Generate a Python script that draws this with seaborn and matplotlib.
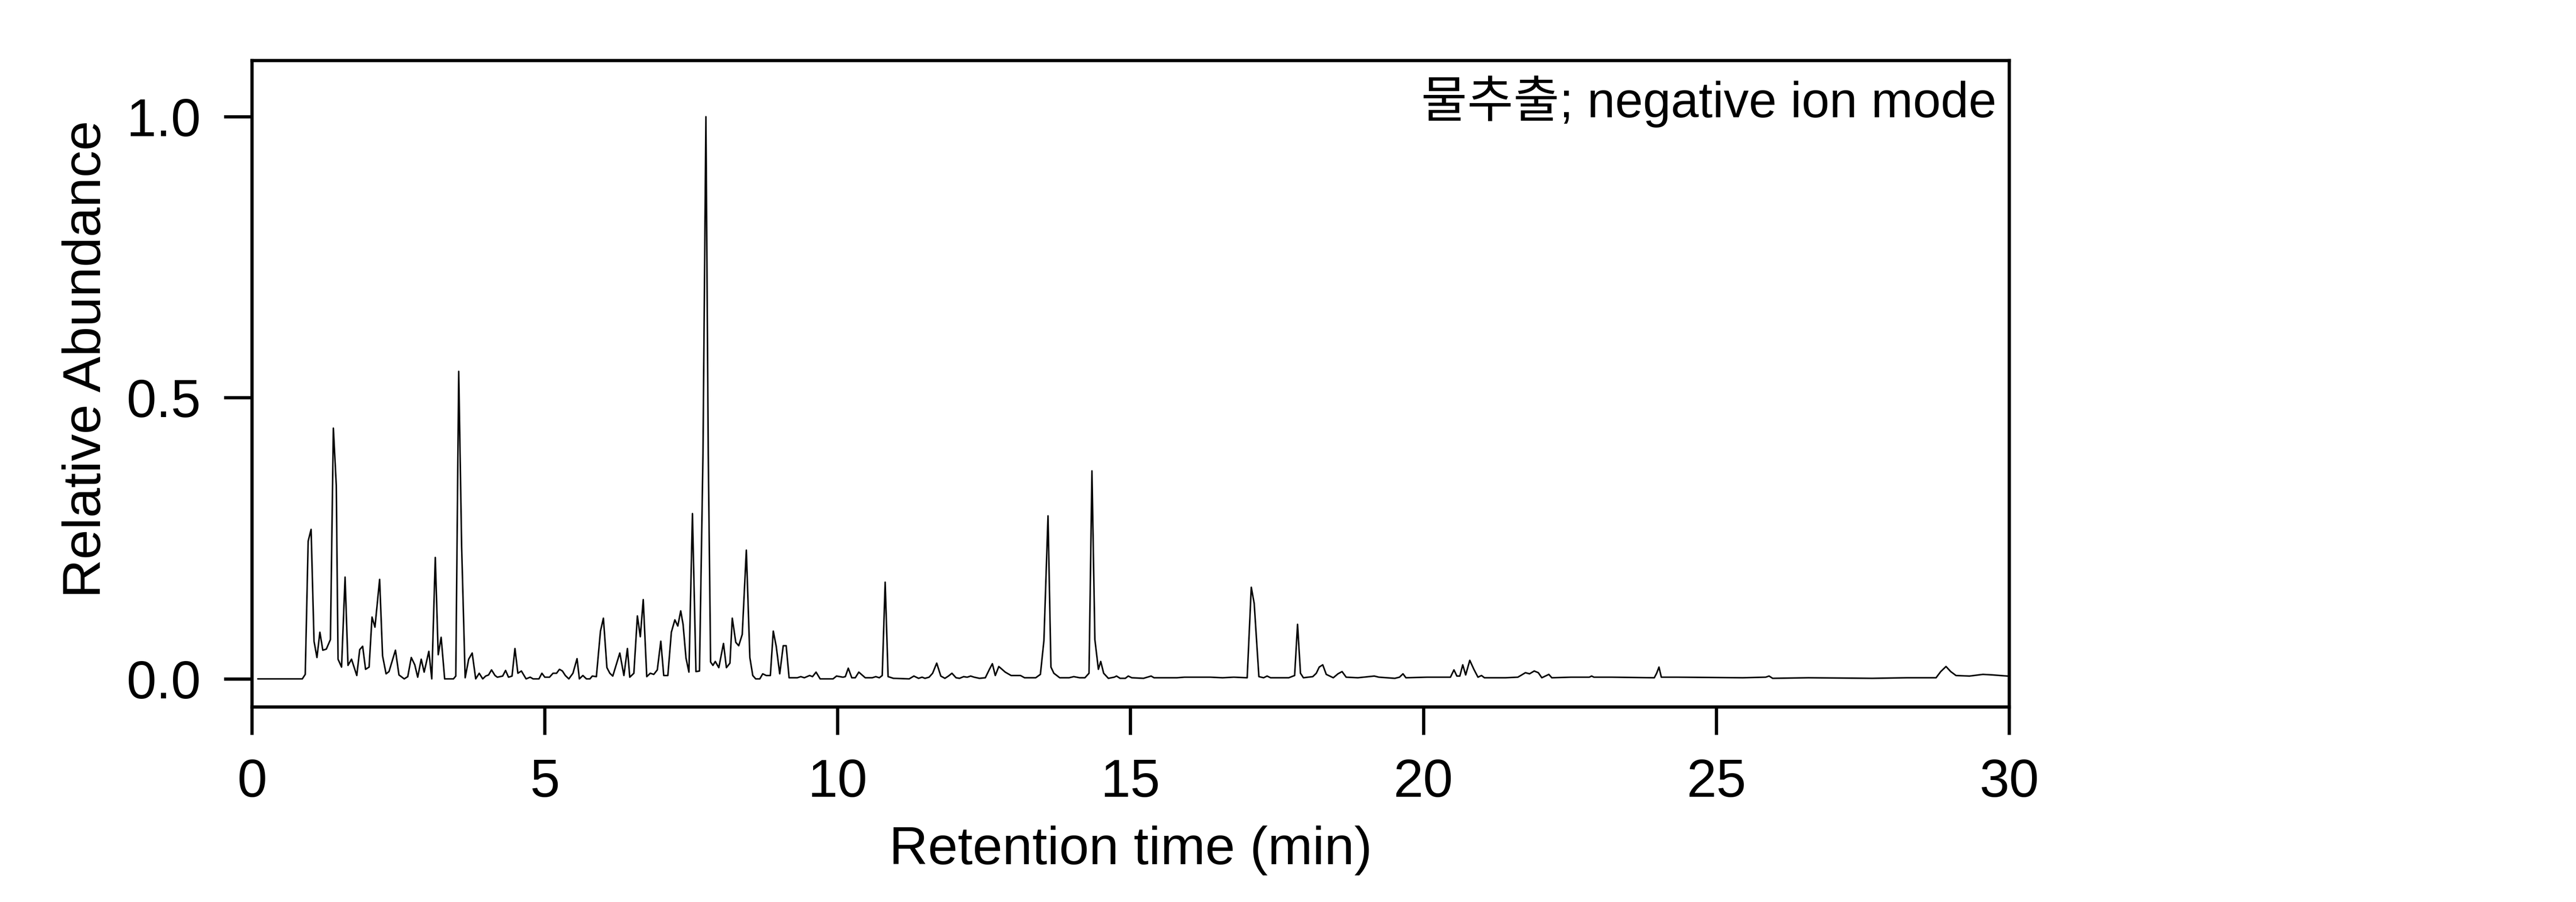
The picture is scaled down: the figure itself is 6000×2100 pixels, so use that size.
import matplotlib
matplotlib.use("Agg")
import matplotlib.pyplot as plt
import seaborn as sns
import pandas as pd

# chromatogram vertices (retention time in min, relative abundance)
rt_min = [
    0.10, 0.86, 0.91, 0.96, 1.01, 1.06, 1.11, 1.16, 1.21, 1.27, 1.34, 1.39, 1.44, 1.47, 1.53,
    1.59, 1.64, 1.70, 1.79, 1.84, 1.89, 1.94, 2.00, 2.05, 2.10, 2.18, 2.23, 2.29, 2.34, 2.45,
    2.51, 2.60, 2.66, 2.72, 2.78, 2.83, 2.89, 2.94, 3.02, 3.07, 3.13, 3.18, 3.23, 3.29, 3.44,
    3.48, 3.53, 3.58, 3.64, 3.70, 3.76, 3.82, 3.88, 3.94, 3.99, 4.04, 4.09, 4.15, 4.19, 4.28,
    4.33, 4.38, 4.44, 4.49, 4.54, 4.60, 4.68, 4.75, 4.80, 4.90, 4.95, 5.00, 5.08, 5.14, 5.20,
    5.25, 5.30, 5.35, 5.41, 5.48, 5.55, 5.59, 5.65, 5.71, 5.77, 5.81, 5.88, 5.95, 6.00, 6.06,
    6.11, 6.16, 6.28, 6.35, 6.41, 6.45, 6.52, 6.58, 6.63, 6.68, 6.74, 6.80, 6.86, 6.92, 6.98,
    7.03, 7.10, 7.16, 7.22, 7.27, 7.32, 7.36, 7.41, 7.46, 7.52, 7.58, 7.64, 7.70, 7.75, 7.79,
    7.83, 7.87, 7.91, 7.97, 8.05, 8.10, 8.16, 8.20, 8.26, 8.31, 8.37, 8.44, 8.50, 8.55, 8.60,
    8.67, 8.72, 8.78, 8.85, 8.90, 8.95, 9.01, 9.07, 9.12, 9.17, 9.24, 9.31, 9.37, 9.43, 9.52,
    9.57, 9.63, 9.70, 9.92, 9.98, 10.09, 10.13, 10.18, 10.24, 10.30, 10.36, 10.47, 10.59, 10.65,
    10.71, 10.76, 10.81, 10.86, 10.95, 11.22, 11.30, 11.38, 11.44, 11.49, 11.56, 11.62, 11.69,
    11.76, 11.83, 11.89, 11.95, 12.02, 12.08, 12.15, 12.21, 12.27, 12.33, 12.42, 12.52, 12.59,
    12.64, 12.69, 12.75, 12.86, 12.96, 13.04, 13.12, 13.19, 13.38, 13.46, 13.52, 13.59, 13.64,
    13.69, 13.79, 13.95, 14.03, 14.13, 14.22, 14.29, 14.34, 14.39, 14.45, 14.49, 14.54, 14.62,
    14.72, 14.76, 14.82, 14.91, 14.96, 15.02, 15.22, 15.35, 15.40, 15.79, 15.92, 16.36, 16.57,
    16.76, 16.99, 17.06, 17.11, 17.19, 17.27, 17.33, 17.39, 17.70, 17.80, 17.85, 17.90, 17.95,
    18.11, 18.17, 18.22, 18.28, 18.34, 18.46, 18.54, 18.61, 18.68, 18.88, 19.16, 19.24, 19.51,
    19.59, 19.65, 19.70, 20.06, 20.39, 20.46, 20.52, 20.57, 20.62, 20.67, 20.72, 20.79, 20.86,
    20.93, 20.99, 21.04, 21.40, 21.61, 21.66, 21.74, 21.81, 21.89, 21.96, 22.02, 22.08, 22.14,
    22.19, 22.52, 22.83, 22.87, 22.91, 23.21, 23.94, 23.98, 24.02, 24.06, 24.33, 25.45, 25.84,
    25.90, 25.96, 26.57, 27.66, 28.25, 28.75, 28.83, 28.92, 29.00, 29.09, 29.32, 29.55, 29.72,
    29.97,
]
abundance = [
    0.0, 0.0, 0.008, 0.245, 0.266, 0.067, 0.038, 0.083, 0.051, 0.053, 0.07, 0.446, 0.344, 0.035, 0.021,
    0.181, 0.024, 0.035, 0.006, 0.052, 0.058, 0.017, 0.021, 0.11, 0.092, 0.177, 0.041, 0.009, 0.013, 0.051,
    0.007, 0.0, 0.004, 0.038, 0.025, 0.003, 0.035, 0.012, 0.049, 0.0, 0.216, 0.043, 0.074, 0.0, 0.0,
    0.005, 0.547, 0.235, 0.002, 0.035, 0.046, 0.0, 0.01, 0.0, 0.005, 0.007, 0.016, 0.006, 0.003, 0.005,
    0.015, 0.003, 0.005, 0.054, 0.01, 0.014, 0.0, 0.003, 0.0, 0.0, 0.01, 0.003, 0.003, 0.01, 0.01,
    0.017, 0.014, 0.006, 0.0, 0.01, 0.036, 0.0, 0.006, 0.0, 0.0, 0.005, 0.004, 0.085, 0.108, 0.02,
    0.01, 0.005, 0.046, 0.006, 0.054, 0.003, 0.01, 0.112, 0.075, 0.141, 0.004, 0.01, 0.008, 0.016, 0.067,
    0.006, 0.006, 0.083, 0.105, 0.094, 0.121, 0.097, 0.037, 0.012, 0.294, 0.013, 0.014, 0.40, 1.0, 0.40,
    0.03, 0.024, 0.031, 0.02, 0.063, 0.02, 0.028, 0.108, 0.065, 0.059, 0.079, 0.229, 0.038, 0.006, 0.0,
    0.0, 0.009, 0.006, 0.006, 0.085, 0.058, 0.009, 0.059, 0.059, 0.002, 0.002, 0.002, 0.004, 0.002, 0.006,
    0.004, 0.012, 0.0, 0.0, 0.005, 0.003, 0.004, 0.019, 0.002, 0.002, 0.012, 0.002, 0.002, 0.004,
    0.002, 0.006, 0.172, 0.004, 0.001, 0.0, 0.005, 0.001, 0.003, 0.001, 0.003, 0.01, 0.028,
    0.005, 0.001, 0.005, 0.01, 0.002, 0.001, 0.004, 0.003, 0.005, 0.003, 0.001, 0.002, 0.017,
    0.027, 0.006, 0.022, 0.012, 0.006, 0.006, 0.006, 0.002, 0.002, 0.008, 0.068, 0.29, 0.021,
    0.01, 0.002, 0.002, 0.004, 0.002, 0.002, 0.01, 0.37, 0.07, 0.017, 0.031, 0.01, 0.001,
    0.003, 0.005, 0.001, 0.001, 0.005, 0.002, 0.001, 0.005, 0.002, 0.002, 0.003, 0.003, 0.002,
    0.003, 0.002, 0.163, 0.134, 0.004, 0.002, 0.005, 0.002, 0.002, 0.006, 0.097, 0.01, 0.002,
    0.004, 0.01, 0.021, 0.025, 0.008, 0.002, 0.009, 0.013, 0.003, 0.002, 0.005, 0.003, 0.001,
    0.003, 0.009, 0.002, 0.003, 0.003, 0.003, 0.016, 0.005, 0.005, 0.025, 0.007, 0.033, 0.017,
    0.003, 0.006, 0.002, 0.002, 0.003, 0.006, 0.011, 0.009, 0.014, 0.011, 0.002, 0.005, 0.008,
    0.002, 0.003, 0.003, 0.005, 0.003, 0.003, 0.002, 0.01, 0.021, 0.003, 0.003, 0.002, 0.003,
    0.005, 0.001, 0.002, 0.001, 0.002, 0.002, 0.013, 0.022, 0.013, 0.006, 0.005, 0.008, 0.007,
    0.005,
]

x_ticks = [0, 5, 10, 15, 20, 25, 30]
y_ticks = [0.0, 0.5, 1.0]
note = "물추출; negative ion mode"

sns.set_theme(style="ticks")
plt.rcParams["font.family"] = ["Liberation Sans", "Noto Sans CJK KR", "DejaVu Sans"]
plt.rcParams["text.color"] = "black"
plt.rcParams["axes.labelcolor"] = "black"
plt.rcParams["xtick.color"] = "black"
plt.rcParams["ytick.color"] = "black"

df = pd.DataFrame({"rt": rt_min, "ab": abundance})

fig = plt.figure(figsize=(20, 7), dpi=300)
ax = fig.add_axes([0.0978, 0.2162, 0.6822, 0.7167])

sns.lineplot(data=df, x="rt", y="ab", ax=ax, color="black", linewidth=0.85,
             estimator=None, sort=False)

ax.set_xlim(0, 30)
ax.set_ylim(-0.05, 1.1)
ax.set_xticks(x_ticks)
ax.set_xticklabels([str(t) for t in x_ticks])
ax.set_yticks(y_ticks)
ax.set_yticklabels([f"{t:.1f}" for t in y_ticks])

for s in ax.spines.values():
    s.set_visible(True)
    s.set_linewidth(1.8)
    s.set_color("black")
ax.tick_params(axis="both", direction="out", length=15.5, width=1.8,
               pad=13, labelsize=30, colors="black", labelcolor="black")

ax.set_xlabel("Retention time (min)", fontsize=30, labelpad=10, color="black")
ax.set_ylabel("Relative Abundance", fontsize=30, color="black")
# the y label sits a bit above the axes centre in the reference
ax.yaxis.set_label_coords(-0.0799, 0.538)

ax.text(0.9927, 0.912, note, transform=ax.transAxes, ha="right", va="baseline",
        fontsize=28, color="black")

fig.savefig("out.png", dpi=300, facecolor="white")
